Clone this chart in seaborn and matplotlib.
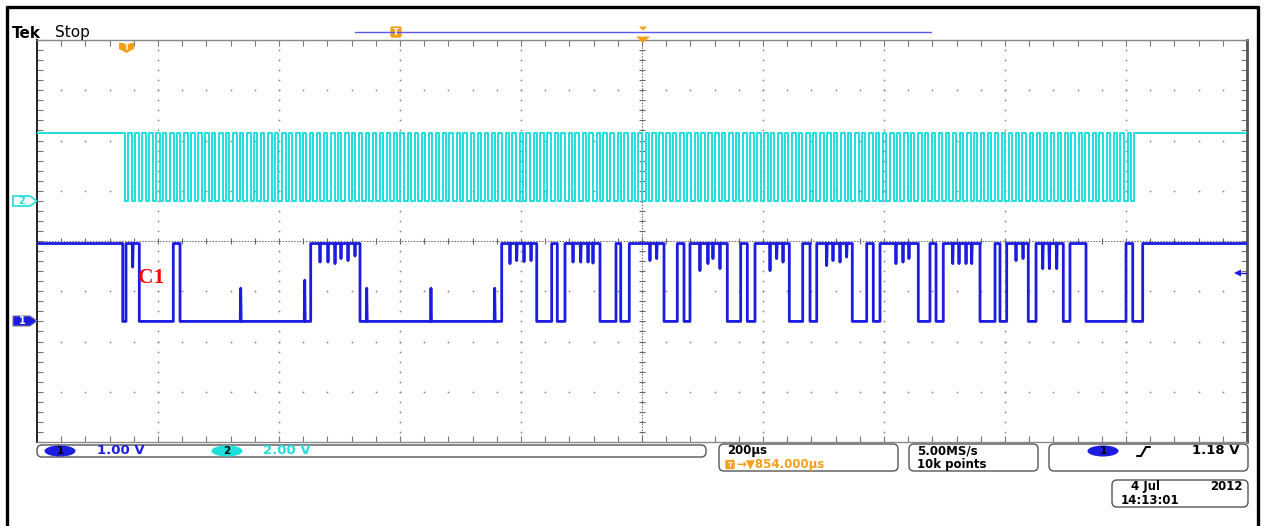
import numpy as np
import pandas as pd
import matplotlib
matplotlib.use("Agg")
import matplotlib.pyplot as plt
import seaborn as sns
from matplotlib.patches import FancyBboxPatch, Polygon, Ellipse

# scope settings
time_per_div_us = 200
ch1_volts_per_div = 1.00
ch2_volts_per_div = 2.00
ch1_ground_div = -1.6
ch2_ground_div = 0.8

# ch1 (blue) data line: starts high, toggles at these times (us)
ch1_low_v, ch1_high_v = 0.0, 1.55
ch1_edges_us = [141.7, 147.1, 169.1, 225.3, 236.4, 452.4, 533.9, 768.1, 826.0, 850.7,
                860.0, 872.7, 930.6, 957.0, 964.8, 979.0, 1036.4, 1058.4, 1069.4, 1079.3,
                1141.0, 1163.1, 1174.1, 1186.8, 1243.5, 1265.6, 1277.7, 1288.8, 1347.6, 1371.4,
                1382.3, 1393.4, 1456.7, 1476.0, 1486.0, 1498.0, 1558.7, 1583.5, 1591.7, 1602.8,
                1638.5, 1651.3, 1696.4, 1707.4, 1733.9, 1800.0, 1811.1, 1827.6]
# short dips while high
ch1_dip_us = [158.2, 467.8, 481.0, 492.6, 502.5, 514.1, 525.6, 781.8, 792.9, 805.0,
              816.6, 886.0, 898.7, 910.8, 919.0, 1013.2, 1024.3, 1095.8, 1109.0, 1117.3,
              1128.9, 1211.6, 1222.6, 1233.1, 1305.3, 1315.7, 1327.3, 1338.3, 1419.8, 1431.4,
              1441.3, 1513.6, 1524.0, 1535.6, 1545.0, 1618.2, 1629.8, 1662.4, 1673.3, 1685.5]
ch1_dip_v = [1.08, 1.18, 1.18, 1.15, 1.25, 1.21, 1.30, 1.15, 1.21, 1.19,
             1.21, 1.18, 1.18, 1.18, 1.16, 1.21, 1.25, 1.01, 1.15, 1.25,
             1.05, 1.01, 1.25, 1.18, 1.11, 1.21, 1.18, 1.28, 1.15, 1.18,
             1.25, 1.15, 1.15, 1.15, 1.15, 1.21, 1.25, 1.05, 1.05, 1.05]
# short spikes while low
ch1_spike_us = [336.7, 442.5, 545.0, 651.2, 756.5]
ch1_spike_v = [0.66, 0.82, 0.66, 0.66, 0.66]

# ch2 (cyan) clock: idle high, falling edges (us), low for ch2_low_us each
ch2_low_v, ch2_high_v = 0.0, 2.7
ch2_fall_us = [145, 157, 168, 180, 191, 203, 214, 226, 237, 249, 261, 272, 284, 295, 307, 318, 330, 341, 353, 364,
               376, 388, 399, 411, 422, 434, 445, 457, 468, 480, 492, 503, 515, 526, 538, 549, 561, 572, 584, 595,
               607, 619, 630, 642, 653, 665, 676, 688, 699, 711, 723, 734, 746, 757, 769, 780, 792, 803, 815, 826,
               838, 850, 861, 873, 884, 896, 907, 919, 930, 942, 954, 965, 977, 988, 1000, 1011, 1023, 1034, 1046, 1057,
               1069, 1081, 1092, 1104, 1115, 1127, 1138, 1150, 1161, 1173, 1185, 1196, 1208, 1219, 1231, 1242, 1254, 1265, 1277, 1288,
               1300, 1312, 1323, 1335, 1346, 1358, 1369, 1381, 1392, 1404, 1416, 1427, 1439, 1450, 1462, 1473, 1485, 1496, 1508, 1519,
               1531, 1543, 1554, 1566, 1577, 1589, 1600, 1612, 1623, 1635, 1647, 1658, 1670, 1681, 1693, 1704, 1716, 1727, 1739, 1750,
               1762, 1774, 1785, 1797, 1808]
ch2_low_us = 5.8

# status bar text
ch_labels = ["1.00 V", "2.00 V"]
timebase = "200µs"
trig_pos = "→▼854.000µs"
sample_rate = ["5.00MS/s", "10k points"]
trig_level = "1.18 V"
date_str = ["4 Jul", "2012", "14:13:01"]

BLUE = "#1c1ce0"
CYAN = "#1fdede"
ORANGE = "#f6a01a"


def build_wave(edges, lo, hi, glitch_t, glitch_v, glitch_base, w=0.8):
    t, v = [0.0], [hi]
    level = hi
    for e in edges:
        nxt = lo if level == hi else hi
        t += [e, e]
        v += [level, nxt]
        level = nxt
    t.append(10.0 * time_per_div_us)
    v.append(level)
    pts = list(zip(t, v))
    for g, gv, b in zip(glitch_t, glitch_v, glitch_base):
        pts += [(g - w, b), (g, gv), (g + w, b)]
    pts.sort(key=lambda p: p[0])
    return pd.DataFrame(pts, columns=["t_us", "volts"])


ch1 = build_wave(ch1_edges_us, ch1_low_v, ch1_high_v,
                 ch1_dip_us + ch1_spike_us, ch1_dip_v + ch1_spike_v,
                 [ch1_high_v] * len(ch1_dip_us) + [ch1_low_v] * len(ch1_spike_us))
ch1["div"] = ch1_ground_div + ch1["volts"] / ch1_volts_per_div

clk_edges = []
for f in ch2_fall_us:
    clk_edges += [f, f + ch2_low_us]
ch2 = build_wave(clk_edges, ch2_low_v, ch2_high_v, [], [], [])
ch2["div"] = ch2_ground_div + ch2["volts"] / ch2_volts_per_div

sns.set_style("white")
plt.rcParams["font.family"] = ["DejaVu Sans"]

W, H = 1264, 526
fig = plt.figure(figsize=(W / 100, H / 100), dpi=100)
ax = fig.add_axes([37 / W, 1 - 442 / H, 1210 / W, 402 / H])
ax.set_xlim(0, 10 * time_per_div_us)
ax.set_ylim(-4, 4)

# graticule
xs_fine = np.arange(0, 10 * time_per_div_us + 0.1, time_per_div_us / 5)
ys_fine = np.arange(-4, 4.01, 0.2)
for k in range(1, 10):
    if k != 5:
        ax.plot(np.full_like(ys_fine, k * time_per_div_us), ys_fine, ls="", marker="o",
                ms=1.3, mew=0, color="#8c8c8c", zorder=1)
for k in range(-3, 4):
    if k != 0:
        ax.plot(xs_fine, np.full_like(xs_fine, k), ls="", marker="o",
                ms=1.3, mew=0, color="#8c8c8c", zorder=1)
ax.axhline(0, color="#666666", lw=0.7, ls=(0, (1.5, 1.5)), zorder=1)
ax.axvline(5 * time_per_div_us, color="#666666", lw=0.7, ls=(0, (1.5, 1.5)), zorder=1)
ax.plot(xs_fine, np.zeros_like(xs_fine), ls="", marker="|", ms=4, mew=0.8, color="#666666", zorder=1)
ax.plot(np.full_like(ys_fine, 5 * time_per_div_us), ys_fine, ls="", marker="_", ms=4, mew=0.8,
        color="#666666", zorder=1)

ax.set_xticks(np.arange(0, 10 * time_per_div_us + 1, time_per_div_us))
ax.set_xticks(xs_fine, minor=True)
ax.set_yticks(range(-4, 5))
ax.set_yticks(ys_fine, minor=True)
ax.tick_params(which="both", direction="in", top=True, right=True, bottom=True, left=True,
               length=4, width=0.8, color="#777777", labelbottom=False, labelleft=False)
for side, (c, lw) in {"left": ("#222222", 1.4), "right": ("#555555", 2.0),
                      "top": ("#8a8a8a", 1.0), "bottom": ("#8a8a8a", 1.0)}.items():
    ax.spines[side].set_color(c)
    ax.spines[side].set_linewidth(lw)

# traces
sns.lineplot(data=ch2, x="t_us", y="div", color=CYAN, lw=1.4, estimator=None, sort=False, ax=ax, zorder=3)
sns.lineplot(data=ch1, x="t_us", y="div", color=BLUE, lw=2.0, estimator=None, sort=False, ax=ax, zorder=4)
ax.set_xlabel("")
ax.set_ylabel("")

# overlay in pixel coordinates for the screen furniture
ov = fig.add_axes([0, 0, 1, 1], zorder=5)
ov.set_xlim(0, W)
ov.set_ylim(H, 0)
ov.axis("off")

# outer frame
ov.plot([6.5, 6.5], [6.5, H], color="black", lw=2.4)
ov.plot([6.5, 1258], [6.5, 6.5], color="black", lw=2.4)
ov.plot([1258, 1258], [6.5, H], color="black", lw=2.4)

# header
ov.text(12, 33, "Tek", fontsize=11, weight="bold", va="center", ha="left", color="black")
ov.text(55, 33, "Stop", fontsize=11, va="center", ha="left", color="black")

# record bar on top
ov.plot([355, 931], [32, 32], color="#5a5af0", lw=1.0)
ov.add_patch(FancyBboxPatch((391, 27), 10, 10, boxstyle="round,pad=0,rounding_size=1.5",
                            fc=ORANGE, ec=ORANGE))
ov.text(396, 32.5, "T", color="white", fontsize=6, weight="bold", ha="center", va="center")
ov.add_patch(Polygon([(639, 26.5), (647, 26.5), (643, 30.5)], fc=ORANGE, ec="none"))
ov.add_patch(Polygon([(636, 36.5), (650, 36.5), (643, 43)], fc=ORANGE, ec="none"))

# trigger position marker
ov.add_patch(Polygon([(119, 43), (134, 43), (134, 49), (126.5, 53), (119, 49)], fc=ORANGE, ec="none"))
ov.text(126.5, 47.5, "T", color="white", fontsize=6, weight="bold", ha="center", va="center")

# channel ground markers
ov.add_patch(Polygon([(13, 196), (30, 196), (37, 201), (30, 206), (13, 206)],
                     fc="white", ec=CYAN, lw=1.2))
ov.text(22, 201, "2", color=CYAN, fontsize=7, weight="bold", ha="center", va="center")
ov.add_patch(Polygon([(13, 316), (30, 316), (37, 321), (30, 326), (13, 326)],
                     fc=BLUE, ec="#7a7a9a", lw=0.8))
ov.text(22, 321, "1", color="white", fontsize=7, weight="bold", ha="center", va="center")

# trigger level arrow
ov.add_patch(Polygon([(1234, 273), (1241, 269.5), (1241, 276.5)], fc=BLUE, ec="none"))
ov.plot([1240, 1246], [273, 273], color=BLUE, lw=1.0)

# annotation
ov.text(138, 278, "C1", color="red", fontsize=15.5, weight="bold", family="Liberation Serif",
        ha="left", va="center")


def box(x0, y0, x1, y1):
    ov.add_patch(FancyBboxPatch((x0, y0), x1 - x0, y1 - y0,
                                boxstyle="round,pad=0,rounding_size=5",
                                fc="none", ec="#555555", lw=1.0))


def oval(xc, yc, fc, label):
    ov.add_patch(Ellipse((xc, yc), 31, 11, fc=fc, ec="none"))
    ov.text(xc, yc + 0.5, label, color="black", fontsize=7.5, weight="bold", ha="center", va="center")


fs = 9.5
fs2 = 8.5
r1, r2 = 450.5, 464.5
box(37, 445, 706, 457)
oval(60, 451, BLUE, "1")
ov.text(97, 451, ch_labels[0], color=BLUE, fontsize=fs, weight="bold", va="center")
oval(227, 451, CYAN, "2")
ov.text(263, 451, ch_labels[1], color=CYAN, fontsize=fs, weight="bold", va="center")

box(719, 444, 898, 471)
ov.text(727, r1, timebase, color="black", fontsize=fs2, weight="bold", va="center")
ov.add_patch(FancyBboxPatch((726, 460.5), 8, 8, boxstyle="round,pad=0,rounding_size=1",
                            fc=ORANGE, ec=ORANGE))
ov.text(730, 465, "T", color="white", fontsize=5, weight="bold", ha="center", va="center")
ov.text(736, r2, trig_pos, color=ORANGE, fontsize=fs2, weight="bold", va="center")

box(909, 444, 1038, 471)
ov.text(917, r1, sample_rate[0], color="black", fontsize=fs2, weight="bold", va="center")
ov.text(917, r2, sample_rate[1], color="black", fontsize=fs2, weight="bold", va="center")

box(1049, 444, 1248, 471)
oval(1103, 451, BLUE, "1")
ov.plot([1137, 1141, 1146, 1150], [456, 456, 447, 447], color="black", lw=1.5)
ov.text(1239, 451, trig_level, color="black", fontsize=fs, weight="bold", va="center", ha="right")

box(1112, 480, 1248, 507)
ov.text(1131, 486.5, date_str[0], color="black", fontsize=fs2, weight="bold", va="center")
ov.text(1243, 486.5, date_str[1], color="black", fontsize=fs2, weight="bold", va="center", ha="right")
ov.text(1121, 500.5, date_str[2], color="black", fontsize=fs2, weight="bold", va="center")

fig.savefig("out.png", dpi=100)
